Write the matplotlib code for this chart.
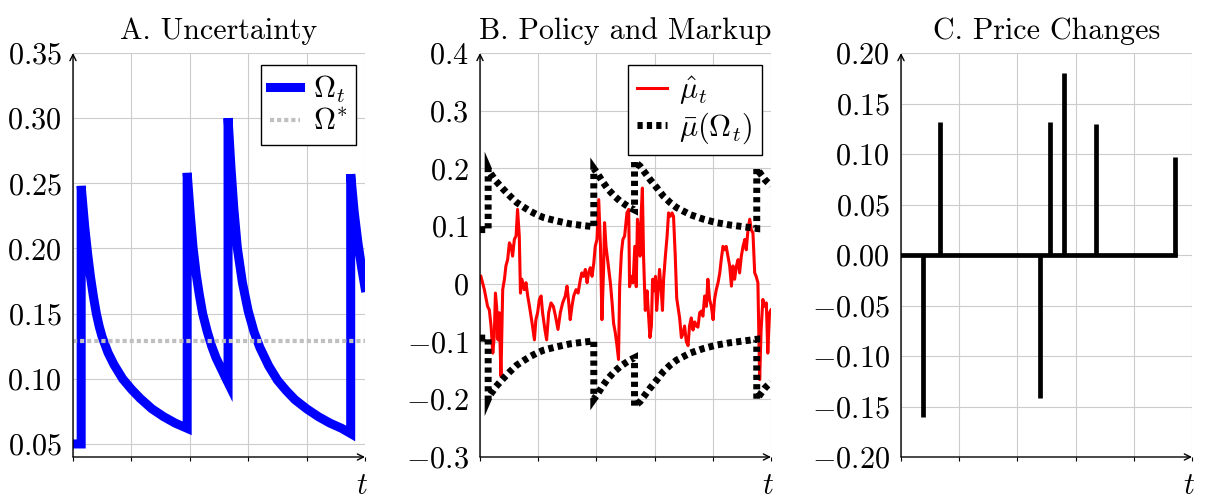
import numpy as np
import matplotlib.pyplot as plt

plt.rcParams['mathtext.fontset'] = 'cm'
plt.rcParams['font.family'] = 'cmr10'
plt.rcParams['axes.formatter.use_mathtext'] = True

# ---- panel A: uncertainty (jumps at t = 2.8, 39.1, 53.1, 95.1)
t_omega = [0, 2.8, 2.8, 4, 5, 6, 7, 8, 9, 10, 12, 14, 17, 20, 23, 27, 31, 35, 39.1,
           39.1, 40.1, 41.1, 42.2, 43.3, 44.4, 46, 47.5, 49, 50.5, 52, 53.1,
           53.1, 54.1, 55.1, 56.3, 58, 60, 62, 64, 67, 70, 73, 76, 80, 84, 88, 92, 95.1,
           95.1, 96.3, 97.6, 98.8, 100]
omega = [0.05, 0.05, 0.248, 0.217, 0.196, 0.178, 0.163, 0.150, 0.140, 0.132, 0.120, 0.111,
         0.100, 0.092, 0.085, 0.077, 0.071, 0.066, 0.062,
         0.258, 0.228, 0.201, 0.180, 0.164, 0.150, 0.136, 0.125, 0.116, 0.109, 0.102, 0.097,
         0.300, 0.262, 0.230, 0.200, 0.174, 0.152, 0.136, 0.124, 0.110, 0.099, 0.091,
         0.084, 0.077, 0.071, 0.066, 0.062, 0.058,
         0.257, 0.228, 0.204, 0.186, 0.170]
omega_star = 0.129

# ---- panel B: markup and inaction band
t_mu = [0.3, 1.5, 2.6, 3.2, 3.8, 4.4, 4.9, 5.3, 5.7, 6.2, 6.6, 7.2, 7.8, 8.4, 8.9, 9.5,
        10.1, 10.7, 11.2, 11.8, 12.4, 12.9, 13.5, 13.9, 14.4, 15.2, 15.8, 16.4, 17.0,
        17.9, 18.7, 19.2, 19.8, 20.4, 21.0, 21.5, 22.3, 22.9, 23.6, 24.4, 25.2, 25.9,
        26.8, 27.6, 28.4, 29.3, 29.9, 30.5, 31.0, 31.6, 32.2, 33.0, 33.7, 34.5, 35.0,
        35.6, 36.2, 36.8, 37.3, 37.9, 38.5, 39.1, 39.6, 40.2, 40.8, 41.4, 41.9, 42.5,
        42.8, 43.3, 44.0, 44.8, 45.4, 45.9, 46.5, 47.1, 47.6, 48.0, 48.6, 49.1, 49.7,
        50.5, 51.1, 51.4, 52.0, 52.6, 53.2, 53.7, 54.1, 54.5, 55.0, 55.4, 55.8, 56.2,
        56.8, 57.4, 58.0, 58.4, 58.9, 59.3, 59.8, 60.3, 60.7, 61.2, 61.7, 62.3, 62.7,
        63.1, 63.7, 64.3, 64.8, 65.4, 66.0, 66.5, 67.1, 67.6, 68.0, 68.6, 69.2, 69.8,
        70.3, 70.9, 71.5, 72.0, 72.6, 73.2, 73.8, 74.3, 74.9, 75.5, 76.1, 76.6, 77.2,
        77.8, 78.3, 78.9, 79.5, 80.1, 80.6, 81.2, 81.8, 82.4, 82.9, 83.5, 84.1, 84.6,
        85.2, 85.8, 86.4, 86.9, 87.5, 88.1, 88.7, 89.2, 89.8, 90.4, 91.0, 91.5, 92.1,
        92.7, 93.2, 93.8, 94.4, 94.9, 95.5, 96.1, 96.6, 97.2, 97.8, 98.4, 98.9, 99.5, 100.0]
mu_hat = [0.013, -0.010, -0.039, -0.045, -0.073, -0.120, -0.091, -0.016, -0.039, -0.097,
          -0.050, -0.160, -0.010, 0.008, 0.031, 0.042, 0.071, 0.065, 0.048, 0.077, 0.083,
          0.129, 0.083, -0.016, 0.008, -0.010, 0.002, -0.021, -0.039, -0.068, -0.097,
          -0.062, -0.050, -0.027, -0.021, -0.050, -0.079, -0.097, -0.050, -0.033, -0.039,
          -0.055, -0.079, -0.050, -0.033, -0.021, -0.004, -0.033, -0.062, -0.039, -0.021,
          -0.010, -0.016, 0.008, 0.019, 0.013, 0.025, 0.002, 0.019, 0.028, 0.013, 0.036,
          0.065, 0.077, 0.146, 0.065, -0.062, 0.031, 0.106, 0.065, 0.036, 0.002, -0.033,
          -0.068, -0.085, -0.108, -0.131, -0.004, 0.054, 0.077, 0.083, 0.123, 0.129,
          -0.005, 0.013, 0.002, 0.065, -0.005, 0.112, 0.094, 0.048, 0.123, 0.166, 0.048,
          -0.046, -0.012, -0.059, -0.093, -0.073, 0.008, -0.012, 0.013, -0.046, -0.012,
          0.025, -0.012, -0.046, 0.008, 0.048, 0.083, 0.123, 0.117, 0.123, 0.117, 0.048,
          -0.025, -0.039, -0.059, -0.093, -0.086, -0.073, -0.100, -0.107, -0.073, -0.059,
          -0.080, -0.066, -0.073, -0.075, -0.050, -0.047, -0.056, -0.021, -0.039, 0.008,
          -0.027, -0.039, -0.062, -0.027, -0.010, 0.002, 0.019, 0.042, 0.065, 0.059,
          0.065, 0.048, 0.031, -0.004, 0.031, 0.008, 0.031, 0.042, 0.019, 0.048, 0.065,
          0.077, 0.059, 0.094, 0.112, 0.094, 0.088, 0.019, 0.013, 0.002, -0.166, -0.080,
          -0.027, -0.039, -0.033, -0.120, -0.050, -0.045]

t_band = [0, 2.8, 2.8, 3.4, 5.5, 8, 10.3, 12.6, 15, 17.2, 19.5, 21.8, 24, 26.4, 30.9, 35.5, 39.1,
          39.1, 40.5, 42, 44, 46, 48, 50, 51.5, 53.1,
          53.1, 55, 58.4, 61, 63, 65.3, 67.6, 72.2, 76.8, 81.3, 85.9, 90.5, 95.1,
          95.1, 96.5, 98, 100]
mu_bar = [0.094, 0.094, 0.200, 0.193, 0.178, 0.164, 0.152, 0.141, 0.133, 0.126, 0.120,
          0.115, 0.112, 0.109, 0.104, 0.101, 0.099,
          0.200, 0.190, 0.178, 0.164, 0.153, 0.144, 0.137, 0.132, 0.128,
          0.212, 0.204, 0.181, 0.165, 0.152, 0.141, 0.132, 0.120, 0.112, 0.106, 0.102,
          0.099, 0.096,
          0.200, 0.190, 0.180, 0.170]

# ---- panel C: price changes
t_dp = [7.4, 13.5, 47.7, 51.1, 56.1, 67.0, 94.2]
dp = [-0.160, 0.132, -0.142, 0.132, 0.180, 0.130, 0.097]

xgrid = [0, 20, 40, 60, 80, 100]
yticks_a = [0.05, 0.10, 0.15, 0.20, 0.25, 0.30, 0.35]
ylabels_a = ['0.05', '0.10', '0.15', '0.20', '0.25', '0.30', '0.35']
yticks_b = [-0.3, -0.2, -0.1, 0, 0.1, 0.2, 0.3, 0.4]
ylabels_b = ['-0.3', '-0.2', '-0.1', '0', '0.1', '0.2', '0.3', '0.4']
yticks_c = [-0.20, -0.15, -0.10, -0.05, 0.0, 0.05, 0.10, 0.15, 0.20]
ylabels_c = ['-0.20', '-0.15', '-0.10', '-0.05', '0.00', '0.05', '0.10', '0.15', '0.20']

FS = 21.8
FT = 21.6

fig = plt.figure(figsize=(12.07, 5.01), dpi=100)


def style(ax, ylim, yticks, ylabels, title):
    ax.set_xlim(0, 100)
    ax.set_ylim(*ylim)
    ax.set_xticks(xgrid)
    ax.set_xticklabels([])
    ax.set_yticks(yticks)
    ax.set_yticklabels(['$' + s + '$' for s in ylabels])
    ax.grid(True, color='#cccccc', lw=0.8)
    ax.set_axisbelow(True)
    for s in ax.spines.values():
        s.set_visible(False)
    ax.tick_params(axis='x', length=3, width=0.8, direction='out')
    ax.tick_params(axis='y', length=0, pad=8, labelsize=FS)
    arr = dict(arrowstyle='->', lw=1.0, color='k', shrinkA=0, shrinkB=0, mutation_scale=11)
    ax.annotate('', xy=(1, 0), xytext=(0, 0), xycoords='axes fraction', arrowprops=arr)
    ax.annotate('', xy=(0, 1), xytext=(0, 0), xycoords='axes fraction', arrowprops=arr)
    ax.set_title(title, fontsize=FT, pad=10)
    ax.text(0.99, -0.092, '$t$', transform=ax.transAxes, ha='center', va='baseline',
            fontsize=FS)


def legend(ax, w):
    ax.legend(loc='upper right', bbox_to_anchor=(1 - 9 / w, 1 - 12 / 404), borderaxespad=0,
              fancybox=False, framealpha=1, edgecolor='k', fontsize=FS, handlelength=1.0,
              handletextpad=0.4, borderpad=0.3, labelspacing=0.12)


# A
ax1 = fig.add_axes([73 / 1207, 44 / 501, 292 / 1207, 404 / 501])
ax1.plot(t_omega, omega, color='blue', lw=6.5, solid_joinstyle='miter', label=r'$\Omega_t$')
ax1.axhline(omega_star, color='#c0c0c0', lw=3, ls=(0, (1.0, 0.7)), label=r'$\Omega^{*}$')
style(ax1, (0.04, 0.35), yticks_a, ylabels_a, 'A. Uncertainty')
legend(ax1, 292)

# B
ax2 = fig.add_axes([480 / 1207, 44 / 501, 291 / 1207, 404 / 501])
ax2.plot(t_mu, mu_hat, color='red', lw=2.2, label=r'$\hat{\mu}_t$')
band = dict(color='k', lw=5, ls=(0, (0.75, 0.6)), dash_joinstyle='miter', dash_capstyle='butt')
ax2.plot(t_band, mu_bar, label=r'$\bar{\mu}(\Omega_t)$', **band)
ax2.plot(t_band, [-v for v in mu_bar], **band)
style(ax2, (-0.3, 0.4), yticks_b, ylabels_b, 'B. Policy and Markup')
legend(ax2, 291)

# C
ax3 = fig.add_axes([901 / 1207, 44 / 501, 291 / 1207, 404 / 501])
ax3.vlines(t_dp, 0, dp, color='k', lw=3.4, capstyle='butt')
ax3.plot([0, t_dp[-1]], [0, 0], color='k', lw=3.4, solid_capstyle='projecting')
style(ax3, (-0.2, 0.2), yticks_c, ylabels_c, 'C. Price Changes')

fig.savefig('out.png', dpi=100)
